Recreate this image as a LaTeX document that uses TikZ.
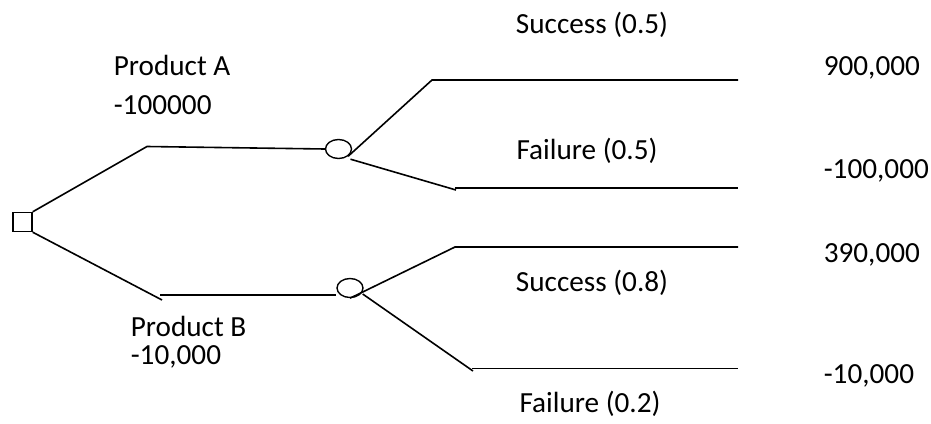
\documentclass[tikz,border=0pt]{standalone}
\usepackage{fontspec}
\setmainfont{Carlito}
\usetikzlibrary{shapes.geometric}
\begin{document}
\begin{tikzpicture}[x=1pt,y=-1pt,
  line width=1.6pt,
  decbox/.style={draw, rectangle, minimum size=19pt, inner sep=0pt, line width=1.4pt},
  chance/.style={draw, ellipse, minimum width=26pt, minimum height=19pt, inner sep=0pt, line width=1.4pt},
  lbl/.style={inner sep=0pt, font=\fontsize{29.2}{34}\selectfont},
  branch/.style={draw=black}]
\useasboundingbox (0,0) rectangle (931,423);
% nodes
\node[decbox] (dec) at (22.5,222) {};
\node[chance] (ca) at (338.5,149) {};
\node[chance] (cb) at (350,288) {};
% bend and end coordinates
\coordinate (a1) at (147,146.5);
\coordinate (b1) at (162,300);
\coordinate (b2) at (160,295);
\coordinate (as1) at (432,80);
\coordinate (as2) at (738,80);
\coordinate (af1) at (456,190);
\coordinate (af0) at (455,188);
\coordinate (af2) at (738,188);
\coordinate (bs1) at (455,247);
\coordinate (bs2) at (738,247);
\coordinate (bf1) at (473,371);
\coordinate (bf0) at (472,368.5);
\coordinate (bf2) at (738,368.5);
% connectors
\draw[branch] (dec.north east) -- (a1) -- (ca.west);
\draw[branch] (dec.south east) -- (b1);
\draw[branch] (b2) -- (cb.west |- b2);
\draw[branch] (ca.south east) -- (as1) -- (as2);
\draw[branch] (ca.south) ++(12,0) coordinate (caf) (caf) -- (af1);
\draw[branch] (af0) -- (af2);
\draw[branch] (cb.south) -- (bs1) -- (bs2);
\draw[branch] (cb.east) ++(-1,6) coordinate (cbf) (cbf) -- (bf1);
\draw[branch] (bf0) -- (bf2);
% labels
\node[lbl] (tSA) at (592,25) {Success (0.5)};
\node[lbl, anchor=west] (tPA) at (113,65) {Product A};
\node[lbl, anchor=west] (tPAv) at (113,105.5) {-100000};
\node[lbl] (tFA) at (587,151) {Failure (0.5)};
\node[lbl, anchor=west] (v1) at (823,68) {900,000};
\node[lbl, anchor=west] (v2) at (823,171) {-100,000};
\node[lbl, anchor=west] (v3) at (823,255) {390,000};
\node[lbl] (tSB) at (592,282.5) {Success (0.8)};
\node[lbl, anchor=west] (tPB) at (130,326) {Product B};
\node[lbl, anchor=west] (tPBv) at (130,357) {-10,000};
\node[lbl, anchor=west] (v4) at (823,376) {-10,000};
\node[lbl] (tFB) at (590,404) {Failure (0.2)};
\end{tikzpicture}
\end{document}
